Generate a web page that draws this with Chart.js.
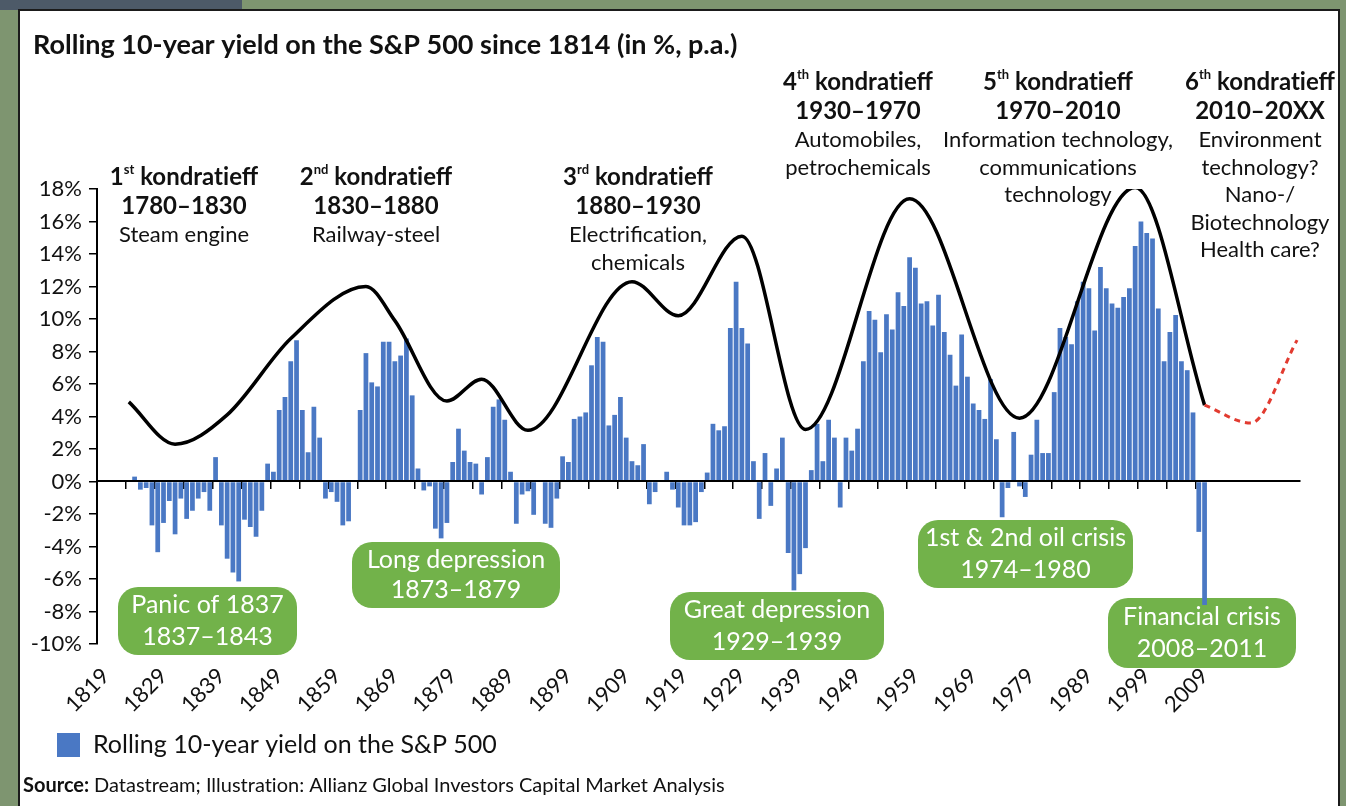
<!DOCTYPE html>
<html>
<head>
<meta charset="utf-8">
<title>Rolling 10-year yield on the S&P 500</title>
<script src="https://cdn.jsdelivr.net/npm/chart.js@4.4.1/dist/chart.umd.min.js"></script>
<style>
  html, body { margin: 0; padding: 0; }
  body { width: 1346px; height: 806px; position: relative; overflow: hidden; background: #7e9570; }
  #corner { position: absolute; left: 0; top: 0; width: 242px; height: 10px; background: #4d5a68; }
  #panel { position: absolute; left: 18px; top: 9px; width: 1318px; height: 797px; background: #fff;
           border: 2px solid #1b1b1b; border-bottom: none; }
  #wrap { position: absolute; left: 0; top: 0; width: 1346px; height: 806px; }
</style>
</head>
<body>
<div id="corner"></div>
<div id="panel"></div>
<div id="wrap"><canvas id="chart" width="1346" height="806"></canvas></div>
<script>
// Year axis runs one category per year; the last years only carry the outlook curve
const FIRST_YEAR = 1818;
const LAST_YEAR = 2025;
const years = [];
for (let y = FIRST_YEAR; y <= LAST_YEAR; y++) years.push(String(y));

const tickYears = ['1819', '1829', '1839', '1849', '1859', '1869', '1879', '1889', '1899', '1909',
                   '1919', '1929', '1939', '1949', '1959', '1969', '1979', '1989', '1999', '2009'];

// Rolling 10-year yield (% p.a.), one value per year from 1824
const YIELD_START = 1824;
const yields = [
   0.3, -0.5, -0.4, -2.7, -4.35, -2.55, -1.2, -3.25, -1.05, -2.3,   // 1824
  -1.8, -1.05, -0.65, -1.8, 1.5, -2.7, -4.75, -5.6, -6.15, -2.35,   // 1834
  -2.8, -3.4, -1.8, 1.1, 0.6, 4.4, 5.2, 7.4, 8.7, 4.4,              // 1844
   1.8, 4.6, 2.7, -1.05, -0.65, -1.25, -2.7, -2.45, 0, 4.4,         // 1854
   7.9, 6.1, 5.85, 8.6, 8.6, 7.4, 7.75, 8.8, 5.3, 0.8,              // 1864
  -0.55, -0.3, -2.9, -3.5, -2.55, 1.2, 3.25, 1.9, 1.2, 1.1,         // 1874
  -0.8, 1.5, 4.6, 5.05, 3.8, 0.6, -2.6, -0.8, -0.6, -2.05,          // 1884
   0, -2.6, -2.85, -1.05, 1.55, 1.2, 3.85, 4.0, 4.25, 7.15,         // 1894
   8.9, 8.6, 3.45, 4.1, 5.2, 2.7, 1.25, 1.0, 2.3, -1.4,             // 1904
  -0.65, 0, 0.6, -0.5, -1.6, -2.7, -2.7, -2.5, -0.65, 0.55,         // 1914
   3.55, 3.15, 3.4, 9.45, 12.3, 9.45, 8.5, 1.25, -2.3, 1.75,        // 1924
  -1.5, 0.8, 2.7, -4.4, -6.7, -5.7, -4.1, 0.7, 3.55, 1.25,          // 1934
   3.8, 2.7, -1.6, 2.7, 1.9, 3.25, 7.4, 10.5, 9.95, 7.95,           // 1944
  10.3, 9.35, 11.65, 10.8, 13.8, 13.15, 10.95, 11.1, 9.6, 11.5,     // 1954
   9.2, 7.8, 5.9, 9.05, 6.45, 4.8, 4.4, 3.85, 6.3, 2.6,             // 1964
  -2.2, -0.4, 3.05, -0.3, -0.95, 1.65, 3.8, 1.75, 1.75, 5.5,        // 1974
   9.45, 8.9, 8.45, 11.1, 12.3, 11.9, 9.3, 13.2, 11.9, 10.95,       // 1984
  10.7, 11.35, 11.9, 14.5, 16.0, 15.3, 14.95, 10.65, 7.4, 9.2,      // 1994
  10.25, 7.4, 6.85, 4.25, -3.1, -7.6                                // 2004
];

// Kondratieff wave drawn over the bars (turning points)
const waveYears  = [1823, 1831, 1840, 1851, 1864, 1869, 1878, 1884, 1892, 1910, 1918, 1929, 1940, 1958, 1977, 1997, 2009];
const waveValues = [4.9, 2.3, 4.1, 8.8, 12.0, 9.9, 4.95, 6.3, 3.15, 12.3, 10.2, 15.1, 3.2, 17.4, 3.9, 18.1, 4.7];

// Dashed outlook for the 6th wave
const outlookYears  = [2009, 2017, 2025];
const outlookValues = [4.7, 3.6, 8.7];

const BAR_BLUE = '#4a78c4';
const GREEN = '#72b24a';
const FONT = 'Lato, "Open Sans", sans-serif';

const waves = [
  { x: 184, y: 177, n: '1', sup: 'st', period: '1780–1830', lines: ['Steam engine'] },
  { x: 376, y: 177, n: '2', sup: 'nd', period: '1830–1880', lines: ['Railway-steel'] },
  { x: 638, y: 177, n: '3', sup: 'rd', period: '1880–1930', lines: ['Electrification,', 'chemicals'] },
  { x: 858, y: 82,  n: '4', sup: 'th', period: '1930–1970', lines: ['Automobiles,', 'petrochemicals'] },
  { x: 1058, y: 82, n: '5', sup: 'th', period: '1970–2010', lines: ['Information technology,', 'communications', 'technology'] },
  { x: 1260, y: 82, n: '6', sup: 'th', period: '2010–20XX', lines: ['Environment', 'technology?', 'Nano-/', 'Biotechnology', 'Health care?'] }
];

const crises = [
  { x: 118, y: 587, w: 179, h: 68, lines: ['Panic of 1837', '1837–1843'] },
  { x: 352, y: 542, w: 208, h: 66, lines: ['Long depression', '1873–1879'] },
  { x: 670, y: 592, w: 214, h: 68, lines: ['Great depression', '1929–1939'] },
  { x: 918, y: 520, w: 215, h: 68, lines: ['1st & 2nd oil crisis', '1974–1980'] },
  { x: 1108, y: 598, w: 188, h: 70, lines: ['Financial crisis', '2008–2011'] }
];

// keep "ti" from turning into a ligature glyph
const plain = s => s.replace(/ti/g, 't\u200Ci');

function roundBox(ctx, x, y, w, h, r) {
  ctx.beginPath();
  ctx.moveTo(x + r, y);
  ctx.arcTo(x + w, y, x + w, y + h, r);
  ctx.arcTo(x + w, y + h, x, y + h, r);
  ctx.arcTo(x, y + h, x, y, r);
  ctx.arcTo(x, y, x + w, y, r);
  ctx.closePath();
}

// centred run of text pieces, each with its own size / offset (for superscripts)
function drawRun(ctx, parts, cx, cy) {
  let total = 0;
  parts.forEach(p => {
    ctx.font = `${p.weight} ${p.size}px ${FONT}`;
    p.w = ctx.measureText(p.t).width;
    total += p.w;
  });
  let x = cx - total / 2;
  parts.forEach(p => {
    ctx.font = `${p.weight} ${p.size}px ${FONT}`;
    ctx.fillText(p.t, x, cy + (p.dy || 0));
    x += p.w;
  });
}

const decorations = {
  id: 'decorations',
  // crisis boxes sit underneath axes and bars
  beforeDraw(chart) {
    const ctx = chart.ctx;
    ctx.save();
    crises.forEach(b => {
      roundBox(ctx, b.x, b.y, b.w, b.h, 20);
      ctx.fillStyle = GREEN;
      ctx.fill();
      ctx.fillStyle = '#fff';
      ctx.textAlign = 'center';
      ctx.textBaseline = 'middle';
      ctx.font = `400 25px ${FONT}`;
      const cx = b.x + b.w / 2;
      ctx.fillText(b.lines[0], cx, b.y + b.h * 0.27);
      ctx.fillText(b.lines[1], cx, b.y + b.h * 0.73);
    });
    ctx.restore();
  },
  afterDraw(chart) {
    const ctx = chart.ctx;
    ctx.save();
    ctx.fillStyle = '#111';
    ctx.textBaseline = 'middle';

    // title
    ctx.textAlign = 'left';
    ctx.font = `700 27px ${FONT}`;
    ctx.fillText('Rolling 10-year yield on the S&P 500 since 1814 (in %, p.a.)', 33, 45);

    // kondratieff labels
    waves.forEach(k => {
      ctx.textAlign = 'left';
      drawRun(ctx, [
        { t: k.n, size: 24, weight: 700 },
        { t: k.sup, size: 13, weight: 700, dy: -7 },
        { t: ' ' + plain('kondratieff'), size: 24, weight: 700 }
      ], k.x, k.y);
      ctx.textAlign = 'center';
      ctx.font = `700 24px ${FONT}`;
      ctx.fillText(k.period, k.x, k.y + 29);
      ctx.font = `400 22px ${FONT}`;
      k.lines.forEach((l, i) => ctx.fillText(plain(l), k.x, k.y + 58 + i * 27.5));
    });

    // legend
    const ds = chart.data.datasets[0];
    ctx.fillStyle = BAR_BLUE;
    ctx.fillRect(57, 733, 23, 24);
    ctx.fillStyle = '#111';
    ctx.textAlign = 'left';
    ctx.font = `400 25px ${FONT}`;
    ctx.fillText(ds.label, 93, 745);

    // source line
    ctx.font = `700 20px ${FONT}`;
    ctx.fillText('Source:', 23, 786);
    const sw = ctx.measureText('Source: ').width;
    ctx.font = `400 20px ${FONT}`;
    ctx.fillText(plain('Datastream; Illustration: Allianz Global Investors Capital Market Analysis'), 23 + sw, 786);
    ctx.restore();
  }
};

const toPoints = (xs, vs) => xs.map((x, i) => ({ x: String(x), y: vs[i] }));

new Chart(document.getElementById('chart'), {
  type: 'bar',
  data: {
    labels: years,
    datasets: [
      {
        type: 'bar',
        label: 'Rolling 10-year yield on the S&P 500',
        data: yields.map((v, i) => ({ x: String(YIELD_START + i), y: v })),
        backgroundColor: BAR_BLUE,
        barPercentage: 0.82,
        categoryPercentage: 1.0,
        order: 2
      },
      {
        type: 'line',
        label: 'Kondratieff wave',
        data: toPoints(waveYears, waveValues),
        borderColor: '#000',
        borderWidth: 3.5,
        pointRadius: 0,
        cubicInterpolationMode: 'monotone',
        fill: false,
        order: 1
      },
      {
        type: 'line',
        label: 'Outlook',
        data: toPoints(outlookYears, outlookValues),
        borderColor: '#e23b30',
        borderWidth: 3,
        borderDash: [6, 5],
        pointRadius: 0,
        cubicInterpolationMode: 'monotone',
        fill: false,
        order: 0
      }
    ]
  },
  options: {
    responsive: false,
    animation: false,
    layout: { padding: { top: 189, right: 46, left: 0, bottom: 0 } },
    plugins: {
      legend: { display: false },
      title: { display: false },
      tooltip: { enabled: false }
    },
    scales: {
      x: {
        type: 'category',
        position: { y: 0 },
        offset: true,
        grid: {
          offset: true,
          drawOnChartArea: false,
          tickLength: 7,
          lineWidth: 1.5,
          color: ctx => (ctx.index % 5 === 0 && ctx.index <= 190) ? '#000' : 'rgba(0,0,0,0)'
        },
        border: { color: '#000', width: 2, z: 1 },
        ticks: { display: false, autoSkip: false }
      },
      xl: {
        type: 'category',
        position: 'bottom',
        offset: true,
        grid: { display: false, drawTicks: false },
        border: { display: false },
        ticks: {
          autoSkip: false,
          minRotation: 45,
          maxRotation: 45,
          padding: 19,
          color: '#111',
          font: { family: FONT, size: 22 },
          callback: function (v) {
            const l = this.getLabelForValue(v);
            return tickYears.includes(l) ? l : '';
          }
        },
        afterFit: s => { s.height = 162; }
      },
      y: {
        min: -10,
        max: 18,
        grid: { drawOnChartArea: false, tickLength: 8, lineWidth: 1.5, color: '#000' },
        border: { color: '#000', width: 2 },
        ticks: {
          stepSize: 2,
          padding: 7,
          color: '#111',
          font: { family: FONT, size: 22 },
          callback: v => v + '%'
        },
        afterFit: s => { s.width = 97; }
      }
    }
  },
  plugins: [decorations]
});
</script>
</body>
</html>
